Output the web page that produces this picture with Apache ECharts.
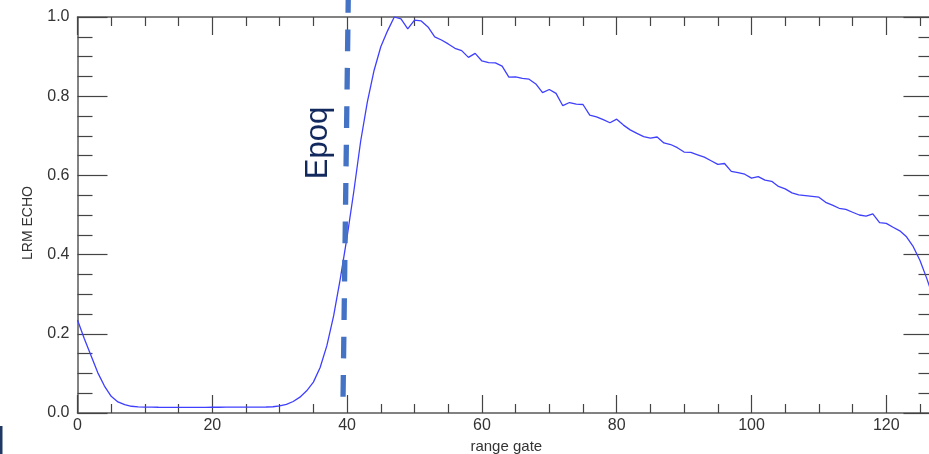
<!DOCTYPE html>
<html><head><meta charset="utf-8">
<script src="https://cdn.jsdelivr.net/npm/echarts@6/dist/echarts.min.js"></script>
<style>html,body{margin:0;padding:0;background:#fff}#c{width:929px;height:454px}</style>
</head><body><div id="c"></div>
<script>
// LRM echo waveform, one value per range gate (gate index = position in array)
const echoValues = [
  0.235, 0.188, 0.145, 0.102, 0.068, 0.042, 0.028, 0.021, 0.017, 0.0155, 0.015, 0.0148,
  0.0145, 0.0144, 0.0144, 0.0143, 0.0143, 0.0143, 0.0144, 0.0144, 0.0145, 0.0145, 0.0146, 0.0146, 0.0147, 0.0148, 0.0149, 0.015, 0.0152,
  0.0158, 0.018, 0.022, 0.029, 0.04, 0.056, 0.078, 0.115, 0.17, 0.245,
  0.34, 0.445, 0.56, 0.685, 0.785, 0.865, 0.925, 0.965, 1.0, 0.995,
  0.97, 0.992, 0.99, 0.975, 0.95, 0.942, 0.932, 0.921, 0.915, 0.898,
  0.908, 0.889, 0.885, 0.884, 0.876, 0.848, 0.849, 0.845, 0.843, 0.831,
  0.809, 0.817, 0.807, 0.776, 0.784, 0.78, 0.779, 0.752, 0.748, 0.741,
  0.733, 0.742, 0.727, 0.715, 0.706, 0.698, 0.694, 0.697, 0.682, 0.678,
  0.670, 0.659, 0.658, 0.652, 0.646, 0.637, 0.628, 0.630, 0.610, 0.607,
  0.603, 0.593, 0.597, 0.588, 0.585, 0.572, 0.566, 0.556, 0.551, 0.549,
  0.547, 0.545, 0.532, 0.525, 0.517, 0.514, 0.507, 0.500, 0.497, 0.503,
  0.481, 0.479, 0.469, 0.460, 0.445, 0.42, 0.385, 0.34, 0.29
];
// Hand-drawn "Epoq" dashed marker (slightly tilted), in data coordinates
const epochGate = [39.4, 40.17];
const epochLevel = [0.041, 1.045];
const epochLabel = 'Epoq';
const xName = 'range gate';
const yName = 'LRM ECHO';
const lastGate = 127;

const FONT = "'Liberation Sans', Arial, Helvetica, sans-serif";
const AX = '#5a5a5a';
const TK = '#444';
const PX_PER_GATE = 6.74;

const chart = echarts.init(document.getElementById('c'), null, {renderer: 'canvas'});
const xBase = {
  type: 'value', min: 0, max: 140, interval: 20,
  splitLine: {show: false},
  axisLine: {show: true, onZero: false, lineStyle: {color: AX, width: 1.5}},
  minorTick: {show: true, splitNumber: 4, length: 9, lineStyle: {color: TK, width: 1.2}},
  minorSplitLine: {show: false}
};
const yBase = {
  type: 'value', min: 0, max: 1, interval: 0.2,
  splitLine: {show: false},
  axisLine: {show: true, onZero: false, lineStyle: {color: AX, width: 1.5}},
  minorTick: {show: true, splitNumber: 4, length: 15, lineStyle: {color: TK, width: 1.2}},
  minorSplitLine: {show: false}
};
chart.setOption({
  animation: false,
  backgroundColor: '#fff',
  grid: [
    {left: 77.5, top: 17, height: 396, width: 140 * PX_PER_GATE, containLabel: false, outerBoundsMode: 'none'},
    {left: 77.5, top: 17, height: 396, width: lastGate * PX_PER_GATE, containLabel: false, outerBoundsMode: 'none'}
  ],
  xAxis: [
    Object.assign({}, xBase, {
      gridIndex: 0, position: 'bottom',
      name: xName, nameLocation: 'middle', nameGap: 22,
      nameTextStyle: {fontFamily: FONT, fontSize: 15, color: '#333', padding: [0, 86, 0, 0]},
      axisTick: {show: true, inside: true, length: 18, lineStyle: {color: TK, width: 1.2}},
      axisLabel: {show: true, margin: 5, fontFamily: FONT, fontSize: 16, color: '#333', showMaxLabel: false}
    }),
    Object.assign({}, xBase, {
      gridIndex: 0, position: 'top',
      axisTick: {show: true, inside: true, length: 18, lineStyle: {color: TK, width: 1.2}},
      axisLabel: {show: false}
    }),
    {
      gridIndex: 1, type: 'value', min: 0, max: lastGate, show: false,
      axisLine: {onZero: false}
    }
  ],
  yAxis: [
    Object.assign({}, yBase, {
      gridIndex: 0, position: 'left',
      name: yName, nameLocation: 'middle', nameGap: 42,
      nameTextStyle: {fontFamily: FONT, fontSize: 14, color: '#333', padding: [0, 16, 0, 0]},
      axisTick: {show: true, inside: true, length: 30, lineStyle: {color: TK, width: 1.2}},
      axisLabel: {show: true, margin: 8, fontFamily: FONT, fontSize: 16, color: '#333',
        formatter: v => v.toFixed(1)}
    }),
    Object.assign({}, yBase, {
      gridIndex: 1, position: 'right',
      axisTick: {show: true, inside: true, length: 30, lineStyle: {color: TK, width: 1.2}},
      axisLabel: {show: false}
    })
  ],
  series: [
    {
      type: 'line', xAxisIndex: 0, yAxisIndex: 0,
      data: echoValues.map((v, i) => [i, v]),
      showSymbol: false, symbol: 'none', smooth: false,
      lineStyle: {color: '#3f3fff', width: 1.3},
      z: 3
    },
    {
      type: 'line', xAxisIndex: 0, yAxisIndex: 0, clip: false,
      data: [[epochGate[0], epochLevel[0]], [epochGate[1], epochLevel[1]]],
      showSymbol: false, symbol: 'none',
      lineStyle: {color: '#4472C4', width: 5.3, type: [21.7, 16.7], cap: 'butt'},
      z: 4
    }
  ],
  graphic: [
    {
      type: 'text', x: 318, y: 143, rotation: Math.PI / 2,
      style: {text: epochLabel, fontFamily: FONT, fontSize: 31, fill: '#12295e',
        align: 'center', verticalAlign: 'middle', textAlign: 'center', textVerticalAlign: 'middle'},
      z: 10
    },
    {
      type: 'rect', shape: {x: 0, y: 426, width: 2.5, height: 28},
      style: {fill: '#1f3864'}, z: 10
    }
  ]
});
</script></body></html>
